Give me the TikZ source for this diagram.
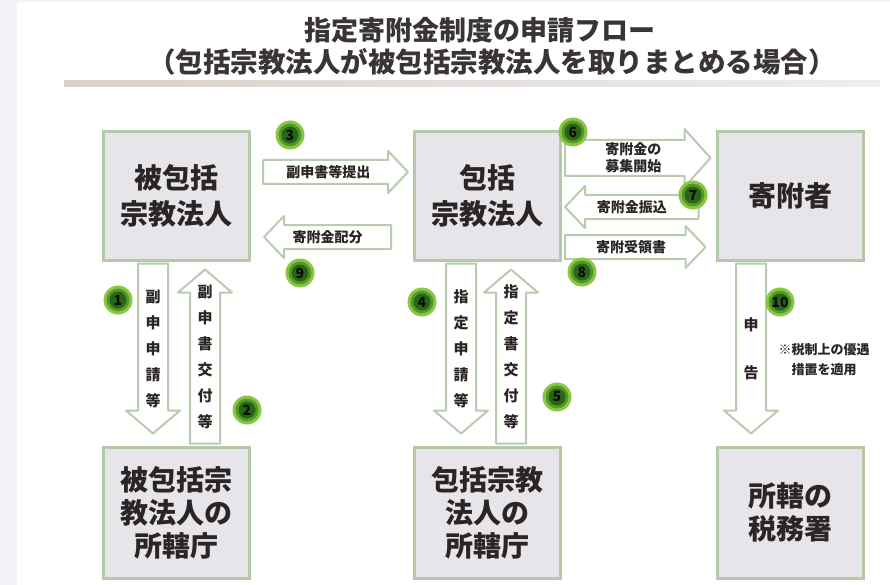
\documentclass[tikz,border=0pt]{standalone}
\usepackage{fontspec}
\setmainfont{Noto Sans CJK JP}
\usepackage{tikz}
\usetikzlibrary{positioning,calc}
\definecolor{boxfill}{HTML}{E7E5EA}
\definecolor{boxedge}{HTML}{B3C9A9}
\definecolor{arrowedge}{HTML}{B9CCB2}
\definecolor{inktext}{HTML}{2B2626}
\definecolor{titleink}{HTML}{3A3434}
\definecolor{badgemid}{HTML}{4F9A2A}
\definecolor{badgein}{HTML}{2A6418}
\definecolor{badgeout}{HTML}{8CC640}
\definecolor{badgetext}{HTML}{050F02}
\definecolor{marginfill}{HTML}{F3F3F9}
\definecolor{rulegray}{HTML}{D8D1CC}
% Fat block arrow from tail #1 to tip #2:
%   #3 half width of shaft, #4 half width of head, #5 length of head
\newcommand*{\fatarrow}[5]{%
  \path ($(#2)!#5!(#1)$) coordinate (neck);
  \draw[flow]
    ($(#1)!#3!90:(#2)$) -- ($(neck)!#3!90:(#2)$) -- ($(neck)!#4!90:(#2)$)
    -- (#2) -- ($(neck)!#4!-90:(#2)$) -- ($(neck)!#3!-90:(#2)$)
    -- ($(#1)!#3!-90:(#2)$) -- cycle;}
% Green step number: rings of green, then the number on top
\newcommand*{\badge}[2]{%
  \fill[badgeout] (#2) circle (14.5pt);
  \fill[badgemid] (#2) circle (11.5pt);
  \fill[badgein] (#2) circle (8.5pt);
  \node[badge] (n#1) at (#2) {#1};}

\begin{document}
\begin{tikzpicture}[x=1pt,y=-1pt,
  box/.style={draw=boxedge,line width=3pt,fill=boxfill,text=inktext,
    minimum width=146pt,minimum height=128pt,inner sep=0pt,align=center,
    font=\bfseries\fontsize{28}{36}\selectfont},
  flow/.style={draw=arrowedge,line width=2pt,fill=white,line join=round},
  tag/.style={text=inktext,inner sep=1pt,align=center,
    font=\bfseries\fontsize{14}{17}\selectfont},
  tagv/.style={tag,font=\bfseries\fontsize{15}{26}\selectfont},
  badge/.style={circle,minimum size=29pt,inner sep=0pt,text=badgetext,
    font=\bfseries\fontsize{14}{14}\selectfont}]
\useasboundingbox (0,0) rectangle (890,585);
% Page background with the pale strip on the left and at the top
\fill[white] (0,0) rectangle (890,585);
\fill[marginfill] (0,0) rectangle (17,585);
\fill[marginfill] (0,0) rectangle (890,2);
% Title and its rule
\node[text=titleink,font=\bfseries\fontsize{27}{32}\selectfont] (title) at (480,30) {指定寄附金制度の申請フロー};
\node[text=titleink,font=\bfseries\fontsize{27.5}{32}\selectfont] (subtitle) at (492,62) {（包括宗教法人が被包括宗教法人を取りまとめる場合）};
\shade[left color=rulegray,right color=rulegray!40] (64,81) rectangle (880,87);
% Top row
\node[box] (hihou) at (176.5,196) {被包括\\宗教法人};
\node[box] (houkatsu) at (487.5,196) {包括\\宗教法人};
\node[box] (kifusha) at (790,196) {寄附者};
% Bottom row
\node[box,minimum height=131pt,font=\bfseries\fontsize{28}{33}\selectfont] (hihouoffice) at (176.5,512.5) {被包括宗\\教法人の\\所轄庁};
\node[box,minimum height=131pt,font=\bfseries\fontsize{28}{33}\selectfont] (houkatsuoffice) at (487.5,512.5) {包括宗教\\法人の\\所轄庁};
\node[box,minimum height=131pt,font=\bfseries\fontsize{28}{33}\selectfont] (zeimusho) at (790,512.5) {所轄の\\税務署};
% Ends of the horizontal arrows
\coordinate (s3) at ($(hihou.east)+(12,-24)$);
\coordinate (e3) at ($(houkatsu.west)+(-5,-24)$);
\coordinate (s9) at ($(houkatsu.west)+(-22,41)$);
\coordinate (e9) at ($(hihou.east)+(13,41)$);
\coordinate (s6) at ($(houkatsu.east)+(3,-38)$);
\coordinate (e6) at ($(kifusha.west)+(-5,-38)$);
\coordinate (s7) at ($(kifusha.west)+(-17,11)$);
\coordinate (e7) at ($(houkatsu.east)+(3,11)$);
\coordinate (s8) at ($(houkatsu.east)+(3,51)$);
\coordinate (e8) at ($(kifusha.west)+(-10,51)$);
% Ends of the vertical arrows
\coordinate (s1) at ($(hihou.south)+(-23.5,2)$);
\coordinate (e1) at ($(hihouoffice.north)+(-23.5,-12)$);
\coordinate (s2) at ($(hihouoffice.north)+(28.5,-2)$);
\coordinate (e2) at ($(hihou.south)+(28.5,8)$);
\coordinate (s4) at ($(houkatsu.south)+(-26.5,2)$);
\coordinate (e4) at ($(houkatsuoffice.north)+(-26.5,-12)$);
\coordinate (s5) at ($(houkatsuoffice.north)+(23.5,-2)$);
\coordinate (e5) at ($(houkatsu.south)+(23.5,8)$);
\coordinate (s10) at ($(kifusha.south)+(-39,2)$);
\coordinate (e10) at ($(zeimusho.north)+(-39,-12)$);
% Block arrows
\fatarrow{s3}{e3}{12pt}{21pt}{20pt}
\fatarrow{s9}{e9}{12pt}{21pt}{20pt}
\fatarrow{s6}{e6}{18pt}{29pt}{26pt}
\fatarrow{s7}{e7}{12pt}{21pt}{20pt}
\fatarrow{s8}{e8}{12pt}{21pt}{20pt}
\fatarrow{s1}{e1}{15pt}{27pt}{23pt}
\fatarrow{s2}{e2}{15pt}{27pt}{23pt}
\fatarrow{s4}{e4}{15pt}{27pt}{23pt}
\fatarrow{s5}{e5}{15pt}{27pt}{23pt}
\fatarrow{s10}{e10}{15pt}{27pt}{23pt}
% Texts in the arrows
\node[tag] (l3) at ($(s3)!0.45!(e3)$) {副申書等提出};
\node[tag] (l9) at ($(s9)!0.5!(e9)$) {寄附金配分};
\node[tag] (l6) at ($(s6)!0.47!(e6)$) {寄附金の\\募集開始};
\node[tag] (l7) at ($(s7)!0.5!(e7)$) {寄附金振込};
\node[tag] (l8) at ($(s8)!0.47!(e8)$) {寄附受領書};
\node[tagv] (l1) at ($(s1)!0.5!(e1)$) {副\\申\\申\\請\\等};
\node[tagv] (l2) at ($(s2)!0.5!(e2)$) {副\\申\\書\\交\\付\\等};
\node[tagv] (l4) at ($(s4)!0.5!(e4)$) {指\\定\\申\\請\\等};
\node[tagv] (l5) at ($(s5)!0.5!(e5)$) {指\\定\\書\\交\\付\\等};
\node[tagv,font=\bfseries\fontsize{15}{48}\selectfont] (l10) at ($(s10)!0.5!(e10)$) {申\\告};
\node[tag,font=\bfseries\fontsize{13}{20}\selectfont] (memo) at (824,360) {※税制上の優遇\\措置を適用};
% Step numbers
\badge{1}{118,300}
\badge{2}{247,410}
\badge{3}{290,135}
\badge{4}{422,302}
\badge{5}{557,397}
\badge{6}{573,132}
\badge{7}{693,195}
\badge{8}{582,272}
\badge{9}{300,273}
\badge{10}{780,302}
\end{tikzpicture}
\end{document}
